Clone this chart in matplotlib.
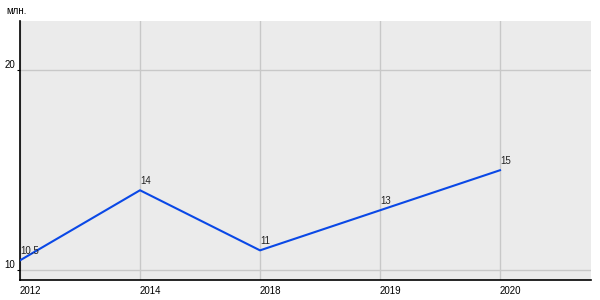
import matplotlib
matplotlib.use('Agg')
import matplotlib.pyplot as plt

plt.rcParams['font.family'] = ['Liberation Sans', 'DejaVu Sans']

# Data
years = ['2012', '2014', '2018', '2019', '2020']
values = [10.5, 14, 11, 13, 15]
value_labels = ['10.5', '14', '11', '13', '15']
y_ticks = [10, 20]

fig = plt.figure(figsize=(6, 3), dpi=100)
ax = fig.add_axes([20 / 600, 20 / 300, 571 / 600, 259 / 300])
ax.set_facecolor('#ebebeb')

x = list(range(len(years)))
ax.plot(x, values, color='#0a48e6', linewidth=1.5, zorder=3)

for xi, v, lab in zip(x, values, value_labels):
    ax.annotate(lab, (xi, v), xytext=(0, 3), textcoords='offset points',
                ha='left', va='bottom', fontsize=7, color='#222222')

ax.set_xlim(0, 571 / 120)
ax.set_ylim(9.52, 22.45)
ax.set_xticks(x)
ax.set_xticklabels(years, ha='left', fontsize=7)
ax.set_yticks(y_ticks)
ax.set_yticklabels([str(t) for t in y_ticks], fontsize=7, va='bottom')
ax.tick_params(axis='x', length=0, pad=4.5)
ax.tick_params(axis='y', length=2.5, width=0.8, pad=1)

ax.grid(True, color='#c8c8c8', linewidth=1)
ax.set_axisbelow(True)
for s in ['top', 'right']:
    ax.spines[s].set_visible(False)
for s in ['left', 'bottom']:
    ax.spines[s].set_color('black')
    ax.spines[s].set_linewidth(1.2)

fig.text(6 / 600, 1 - 11 / 300, 'млн.', fontsize=7, va='center', ha='left')

fig.savefig('out.png', dpi=100)
